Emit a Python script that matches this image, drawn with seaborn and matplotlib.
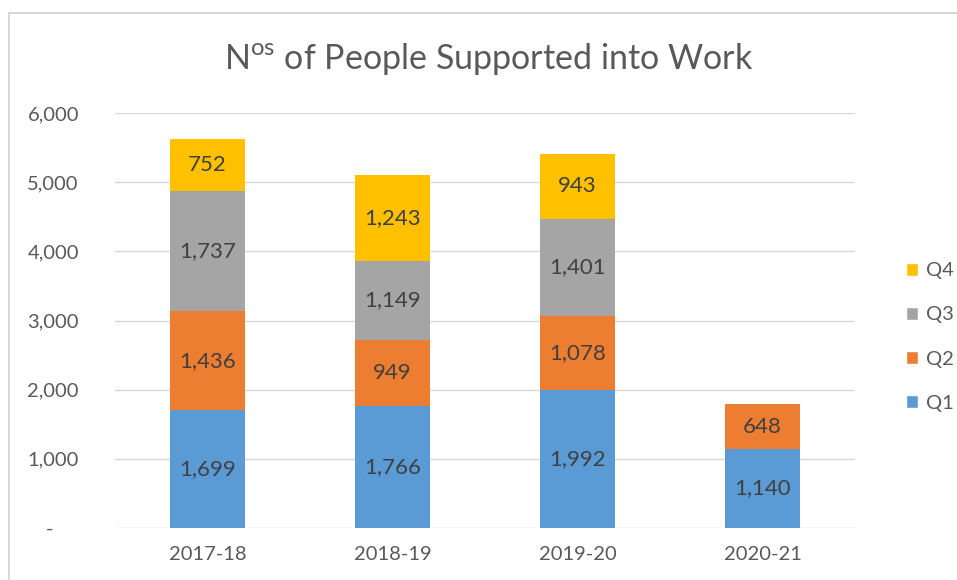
import numpy as np
import pandas as pd
import matplotlib
matplotlib.use("Agg")
import matplotlib.pyplot as plt
from matplotlib.patches import Rectangle, Patch
from matplotlib.ticker import FuncFormatter
import seaborn as sns

years = ["2017-18", "2018-19", "2019-20", "2020-21"]
quarters = ["Q1", "Q2", "Q3", "Q4"]
q1 = [1699, 1766, 1992, 1140]
q2 = [1436, 949, 1078, 648]
q3 = [1737, 1149, 1401, 0]
q4 = [752, 1243, 943, 0]
colors = {"Q1": "#5B9BD5", "Q2": "#ED7D31", "Q3": "#A5A5A5", "Q4": "#FFC000"}

df = pd.DataFrame({"Year": years, "Q1": q1, "Q2": q2, "Q3": q3, "Q4": q4})

sns.set_style("white")
plt.rcParams["font.family"] = ["Lato", "DejaVu Sans"]
plt.rcParams["mathtext.fontset"] = "custom"
plt.rcParams["mathtext.rm"] = "Lato"

fig = plt.figure(figsize=(9.57, 5.8), dpi=100)
ax = fig.add_axes([115 / 957, 52 / 580, 740 / 957, 415 / 580])

# stacked bars: draw cumulative totals from the top segment down
cum = df[quarters].cumsum(axis=1)
for q in reversed(quarters):
    sns.barplot(x=df["Year"], y=cum[q], color=colors[q], width=0.405,
                saturation=1, linewidth=0, edgecolor="none", ax=ax, zorder=2)

# segment labels
for i in range(len(years)):
    bottom = 0
    for q in quarters:
        v = df[q][i]
        if v > 0:
            ax.text(i, bottom + v / 2, f"{v:,}", ha="center", va="center",
                    fontsize=16, color="#404040", zorder=3)
        bottom += v

ax.set_ylim(0, 6000)
ax.set_xlim(-0.5, 3.5)
ax.set_yticks(range(0, 6001, 1000))
ax.yaxis.set_major_formatter(FuncFormatter(lambda v, p: "-     " if v == 0 else f"{int(v):,}"))
ax.grid(axis="y", color="#D9D9D9", linewidth=1, zorder=0)
ax.set_axisbelow(True)
for s in ax.spines.values():
    s.set_visible(False)
ax.tick_params(axis="both", length=0, labelsize=14.5, colors="#595959")
ax.tick_params(axis="y", pad=26)
ax.tick_params(axis="x", pad=13)
ax.set_xlabel("")
ax.set_ylabel("")

fig.text(489 / 957, 1 - 59 / 580, r"N$^{\mathrm{os}}$ of People Supported into Work",
         ha="center", va="center", fontsize=24.5, color="#595959")

handles = [Patch(facecolor=colors[q], label=q) for q in reversed(quarters)]
leg = fig.legend(handles=handles, loc="center left", bbox_to_anchor=(888 / 957, 1 - 337 / 580),
                 frameon=False, fontsize=14.5, handlelength=0.6, handleheight=0.6,
                 handletextpad=0.4, labelspacing=1.35)
for t in leg.get_texts():
    t.set_color("#595959")

fig.patches.append(Rectangle((9 / 957, -0.1), 1.2, 1 - 13 / 580 + 0.1,
                             transform=fig.transFigure, fill=False,
                             edgecolor="#D9D9D9", linewidth=1.5))

fig.savefig("out.png", dpi=100)
